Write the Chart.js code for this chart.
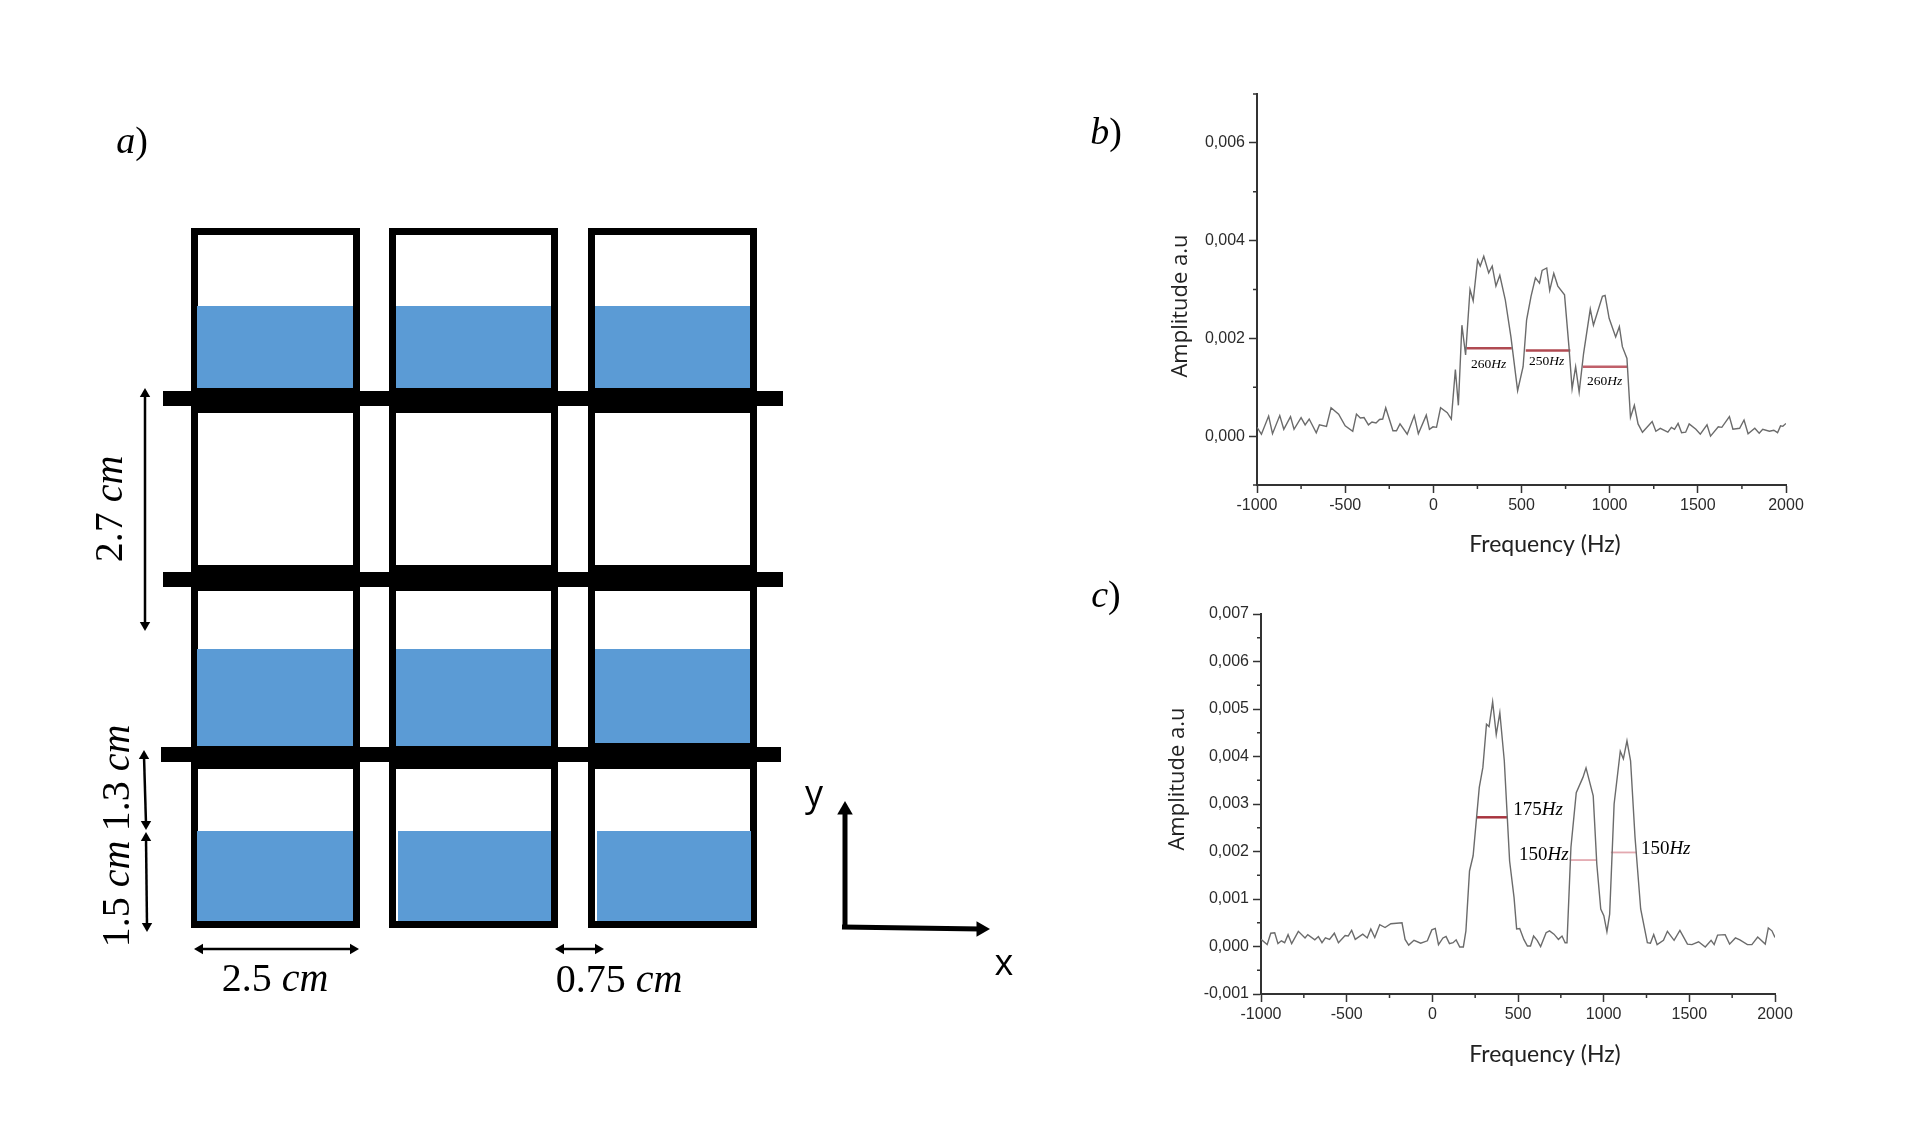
<!DOCTYPE html>
<html><head><meta charset="utf-8">
<style>html,body{margin:0;padding:0;background:#fff;width:1912px;height:1125px;overflow:hidden}canvas{position:absolute;display:block}</style>
<script src="https://cdn.jsdelivr.net/npm/chart.js@4"></script>
</head><body>
<canvas id="a" style="left:0;top:0"></canvas>
<canvas id="b" style="left:1130px;top:60px"></canvas>
<canvas id="c" style="left:1130px;top:571px"></canvas>
<script>
// ---- Panel b data
const freqB=[-1000,-975,-934,-912,-871,-848,-810,-790,-750,-727,-704,-664,-646,-606,-580,-537,-500,-457,-436,-414,-393,-368,-348,-325,-305,-287,-270,-229,-209,-189,-148,-108,-85,-40,-22,-2,18,41,79,102,125,142,162,183,208,226,251,266,286,314,334,355,377,408,440,478,509,529,554,579,602,617,643,660,683,706,744,769,787,807,827,852,890,908,959,974,997,1034,1055,1072,1098,1118,1140,1161,1186,1241,1262,1287,1330,1350,1368,1388,1408,1431,1451,1489,1514,1552,1572,1616,1636,1679,1699,1737,1762,1785,1823,1848,1868,1906,1931,1952,1969,1982,2000];
const ampB=[.00018,.00004,.00041,.00005,.00042,.00014,.0004,.00014,.00038,.00023,.00035,.00007,.00023,.0002,.00058,.00045,.00021,.0001,.00045,.00037,.00038,.00023,.00029,.00027,.00034,.00035,.00058,.00011,.00011,.00025,.00004,.00042,.00005,.00043,.00014,.00019,.00018,.00058,.00048,.00035,.00136,.00063,.00227,.00166,.003,.00277,.0036,.00348,.00368,.00334,.00348,.00307,.00329,.00279,.00203,.00093,.00142,.00238,.00286,.00324,.00313,.00339,.00344,.00298,.00333,.00307,.00289,.00183,.00097,.00142,.0009,.00169,.0026,.00227,.00286,.00288,.00241,.00203,.00224,.00183,.00159,.00038,.00063,.00025,.00008,.0003,.0001,.00016,.00008,.00018,.00014,.00026,.00007,.00008,.00025,.00014,.00004,.00023,0,.00019,.00018,.0004,.00014,.00016,.00033,.00005,.00016,.00006,.00014,.0001,.00012,.00007,.00021,.0002,.00026];
// ---- Panel c data
const freqC=[-1000,-964,-943,-920,-901,-881,-862,-842,-821,-782,-743,-727,-686,-665,-644,-624,-600,-572,-548,-509,-491,-471,-450,-406,-380,-359,-336,-307,-276,-242,-177,-159,-138,-107,-68,-29,-3,17,36,62,80,100,121,139,160,181,196,217,238,274,295,316,331,352,373,394,420,451,477,492,510,534,555,573,591,612,632,664,684,710,736,757,775,786,809,840,879,897,939,960,983,1001,1019,1035,1061,1097,1115,1136,1157,1183,1216,1255,1273,1292,1312,1349,1372,1411,1445,1489,1515,1554,1593,1627,1645,1665,1709,1735,1769,1795,1839,1865,1899,1943,1961,1982,2000];
const ampC=[.00015,.00004,.00028,.00029,.00006,.00012,.00008,.00025,.00006,.00032,.00018,.00025,.00014,.00021,.00008,.00018,.00015,.00028,.00008,.00023,.00022,.00034,.00015,.00026,.00018,.00037,.00019,.00046,.0004,.00048,.0005,.00015,.00003,.00013,.00007,.00012,.00035,.00038,.00004,.00018,.00021,.00006,.00008,.00014,-.00001,-.00001,.00033,.00159,.00191,.00335,.00377,.00468,.00463,.00515,.00446,.00492,.00391,.0018,.00103,.00037,.00038,.00015,.00001,.00001,.00022,.00013,0,.00029,.00033,.00026,.00015,.00022,.00008,.00008,.00209,.00324,.00356,.00376,.00317,.00173,.00079,.00065,.00031,.00068,.003,.00411,.00395,.00433,.00391,.0023,.00079,.00008,.00007,.00025,.00004,.00013,.00032,.00013,.00034,.00005,.00004,.0001,-.00001,.00013,.00004,.00024,.00025,.00005,.00018,.00014,.00004,.00004,.0002,.00005,.00039,.00033,.00019];
// ---- Width markers [start Hz, end Hz, amplitude]
const widthsB=[[188,445,.0018],[524,777,.00175],[847,1103,.00142]];
const widthsC=[[256,438,.00272],[801,957,.00182],[1042,1193,.00198]];
const widthLabelsB=[["260","Hz",314,.00147],["250","Hz",643,.00152],["260","Hz",971,.00112]];
const widthLabelsC=[["175","Hz",617,.00288],["150","Hz",651,.00193],["150","Hz",1362,.00205]];
// ---- Axis ticks
const xTicks=[-1000,-500,0,500,1000,1500,2000];
const xMinor=[-750,-250,250,750,1250,1750];
const yTicksB=[0,.002,.004,.006];
const yMinorB=[-.001,.001,.003,.005,.007];
const yTicksC=[-.001,0,.001,.002,.003,.004,.005,.006,.007];
const yMinorC=[-.0005,.0005,.0015,.0025,.0035,.0045,.0055,.0065];
// ---- Schematic a (drawing units)
const cellEdges=[[191,360],[389,558],[588,757]];
const wellTop=228, wellBottom=928;
const waterX=[[197,353],[396,551],[595,750]];
const waterXLow=[[197,353],[398,551],[597,751]];
const waterRows=[[306,388,388,388,waterX],[649,746,746,743,waterX],[831,921,921,921,waterXLow]];
const railY=[[391,406,163,783],[572,587,163,783],[747,762,161,781]];
const thickY=[[388,413],[565,591],[746,769]];
const arrows=[[145,394,145,625],[144,756,146,824],[146,838,147,926],[200,949,353,949],[561,949,598,949]];
const frameArrows=[[845,928,845,810,-1],[842,927,981,929,1]];

const line=(pts,color,w,extra)=>Object.assign({type:'scatter',showLine:true,data:pts,borderColor:color,backgroundColor:color,borderWidth:w,pointRadius:0,tension:0,borderCapStyle:'butt',borderJoinStyle:'miter'},extra||{});
const serif='"Liberation Serif"';
function runs(ctx,parts,x,y,size,rot){
  ctx.save();ctx.translate(x,y);ctx.rotate(rot||0);ctx.fillStyle='#000';ctx.textBaseline='middle';ctx.textAlign='left';
  let w=0;parts.forEach(p=>{ctx.font=(p[1]?'italic ':'')+size+'px '+serif;w+=ctx.measureText(p[0]).width});
  let cx=-w/2;parts.forEach(p=>{ctx.font=(p[1]?'italic ':'')+size+'px '+serif;ctx.fillText(p[0],cx,0);cx+=ctx.measureText(p[0]).width});
  ctx.restore();
}
// ---- Schematic chart
const ds=[];
waterRows.forEach(r=>r[4].forEach((x,i)=>{
  const bottom=r[i+1];
  ds.push(line([{x:x[0],y:(r[0]+bottom)/2},{x:x[1],y:(r[0]+bottom)/2}],'#5b9bd5',bottom-r[0]));
}));
cellEdges.forEach(e=>{
  ds.push(line([{x:e[0]+3.5,y:wellBottom-3.5},{x:e[0]+3.5,y:wellTop+3.5},{x:e[1]-3.5,y:wellTop+3.5},{x:e[1]-3.5,y:wellBottom-3.5},{x:e[0],y:wellBottom-3.5}],'#000',7));
  thickY.forEach(t=>ds.push(line([{x:e[0],y:(t[0]+t[1])/2},{x:e[1],y:(t[0]+t[1])/2}],'#000',t[1]-t[0])));
});
ds.push(line([{x:588,y:745},{x:757,y:745}],'#000',4));
railY.forEach(r=>ds.push(line([{x:r[2],y:(r[0]+r[1])/2},{x:r[3],y:(r[0]+r[1])/2}],'#000',r[1]-r[0])));
arrows.forEach(a=>{
  const vert=Math.abs(a[3]-a[1])>Math.abs(a[2]-a[0]);
  ds.push(line([{x:a[0],y:a[1]},{x:a[2],y:a[3]}],'#000',2.5,{pointStyle:'triangle',pointRadius:6,pointBackgroundColor:'#000',pointBorderWidth:0,pointRotation:vert?[0,180]:[270,90]}));
});
frameArrows.forEach(a=>{
  const vert=a[4]<0;
  ds.push(line([{x:a[0],y:a[1]},{x:a[2],y:a[3]}],'#000',5));
  ds.push(line([{x:a[2],y:a[3]}],'#000',0,{pointStyle:'triangle',pointRadius:9,pointBackgroundColor:'#000',pointBorderWidth:0,pointRotation:vert?0:90}));
});
const schemeText={id:'schemeText',afterDraw(ch){
  const c=ch.ctx;
  runs(c,[['a',1],[')',0]],132,143,38);
  runs(c,[['b',1],[')',0]],1106,134,38);
  runs(c,[['c',1],[')',0]],1106,597,38);
  runs(c,[['2.7 ',0],['cm',1]],111,509,40,-Math.PI/2);
  runs(c,[['1.3 ',0],['cm',1]],118,778,40,-Math.PI/2);
  runs(c,[['1.5 ',0],['cm',1]],118,894,40,-Math.PI/2);
  runs(c,[['2.5 ',0],['cm',1]],275,980,40);
  runs(c,[['0.75 ',0],['cm',1]],619,981,40);
  c.save();c.fillStyle='#000';c.textAlign='center';c.textBaseline='middle';c.font='36px "Open Sans"';
  c.fillText('y',814,796);c.fillText('x',1004,965);c.restore();
}};
const cA=document.getElementById('a');cA.width=1130;cA.height=1125;
new Chart(cA,{type:'scatter',data:{datasets:ds},plugins:[schemeText],options:{responsive:false,animation:false,layout:{padding:0,autoPadding:false},
  plugins:{legend:{display:false},tooltip:{enabled:false}},
  scales:{x:{type:'linear',min:0,max:1130,display:false},y:{type:'linear',reverse:true,min:0,max:1125,display:false}}}});

// ---- Spectra
function spectrum(id,w,h,area,freq,amp,widths,styles,labels,yTicks,yMinor,labelSize,titles){
  const el=document.getElementById(id);el.width=w;el.height=h;
  const over={id:'over'+id,afterDraw(ch){
    const c=ch.ctx,xs=ch.scales.x,ys=ch.scales.y;
    c.save();c.strokeStyle='#333';c.lineWidth=1.5;
    xMinor.forEach(v=>{const p=xs.getPixelForValue(v);c.beginPath();c.moveTo(p,area.bottom);c.lineTo(p,area.bottom+4);c.stroke()});
    yMinor.forEach(v=>{const p=ys.getPixelForValue(v);c.beginPath();c.moveTo(area.left,p);c.lineTo(area.left-4,p);c.stroke()});
    c.restore();
    labels.forEach(l=>runs(c,[[l[0],0],[l[1],1]],xs.getPixelForValue(l[2]),ys.getPixelForValue(l[3]),labelSize));
    c.save();c.fillStyle='#222';c.textAlign='center';c.textBaseline='middle';
    c.font='23px Lato';c.fillText('Frequency (Hz)',titles[0],titles[1]);
    c.translate(titles[2],titles[3]);c.rotate(-Math.PI/2);c.font='22px "Open Sans"';c.fillText('Amplitude a.u',0,0);c.restore();
  }};
  const sets=[line(freq.map((f,i)=>({x:f,y:amp[i]})),'#6b6b6b',1.4)];
  widths.forEach((m,i)=>sets.push(line([{x:m[0],y:m[2]},{x:m[1],y:m[2]}],styles[i][0],styles[i][1])));
  new Chart(el,{type:'scatter',data:{datasets:sets},plugins:[over],options:{responsive:false,animation:false,
    layout:{autoPadding:false,padding:{top:area.top,right:w-area.right,left:0,bottom:0}},
    plugins:{legend:{display:false},tooltip:{enabled:false}},
    scales:{
      x:{type:'linear',min:-1000,max:2000,afterBuildTicks:s=>{s.ticks=xTicks.map(v=>({value:v}))},afterFit:s=>{s.height=h-area.bottom},
        border:{color:'#333',width:2},grid:{drawOnChartArea:false,tickLength:8,tickColor:'#333',tickWidth:1.5},
        ticks:{color:'#2b2b2b',font:{family:'"Liberation Sans"',size:16},maxRotation:0,autoSkip:false,padding:3,callback:v=>String(v)}},
      y:{type:'linear',min:-.001,max:.007,afterBuildTicks:s=>{s.ticks=yTicks.map(v=>({value:v}))},afterFit:s=>{s.width=area.left},
        border:{color:'#333',width:2},grid:{drawOnChartArea:false,tickLength:8,tickColor:'#333',tickWidth:1.5},
        ticks:{color:'#2b2b2b',font:{family:'"Liberation Sans"',size:16},autoSkip:false,padding:4,callback:v=>v.toFixed(3).replace('.',',')}}
    }}});
}
spectrum('b',740,500,{left:127,right:656,top:34,bottom:425},freqB,ampB,widthsB,[['#b04a52',2.5],['#b04a52',2.5],['#c0606a',2.5]],widthLabelsB,yTicksB,yMinorB,13.5,[415,485,51,246]);
spectrum('c',740,500,{left:131,right:645,top:43,bottom:423},freqC,ampC,widthsC,[['#a8343f',2.5],['#e3a9b0',1.8],['#e3a9b0',1.8]],widthLabelsC,yTicksC,yMinorC,19,[415,484,48,208]);
</script>
</body></html>
